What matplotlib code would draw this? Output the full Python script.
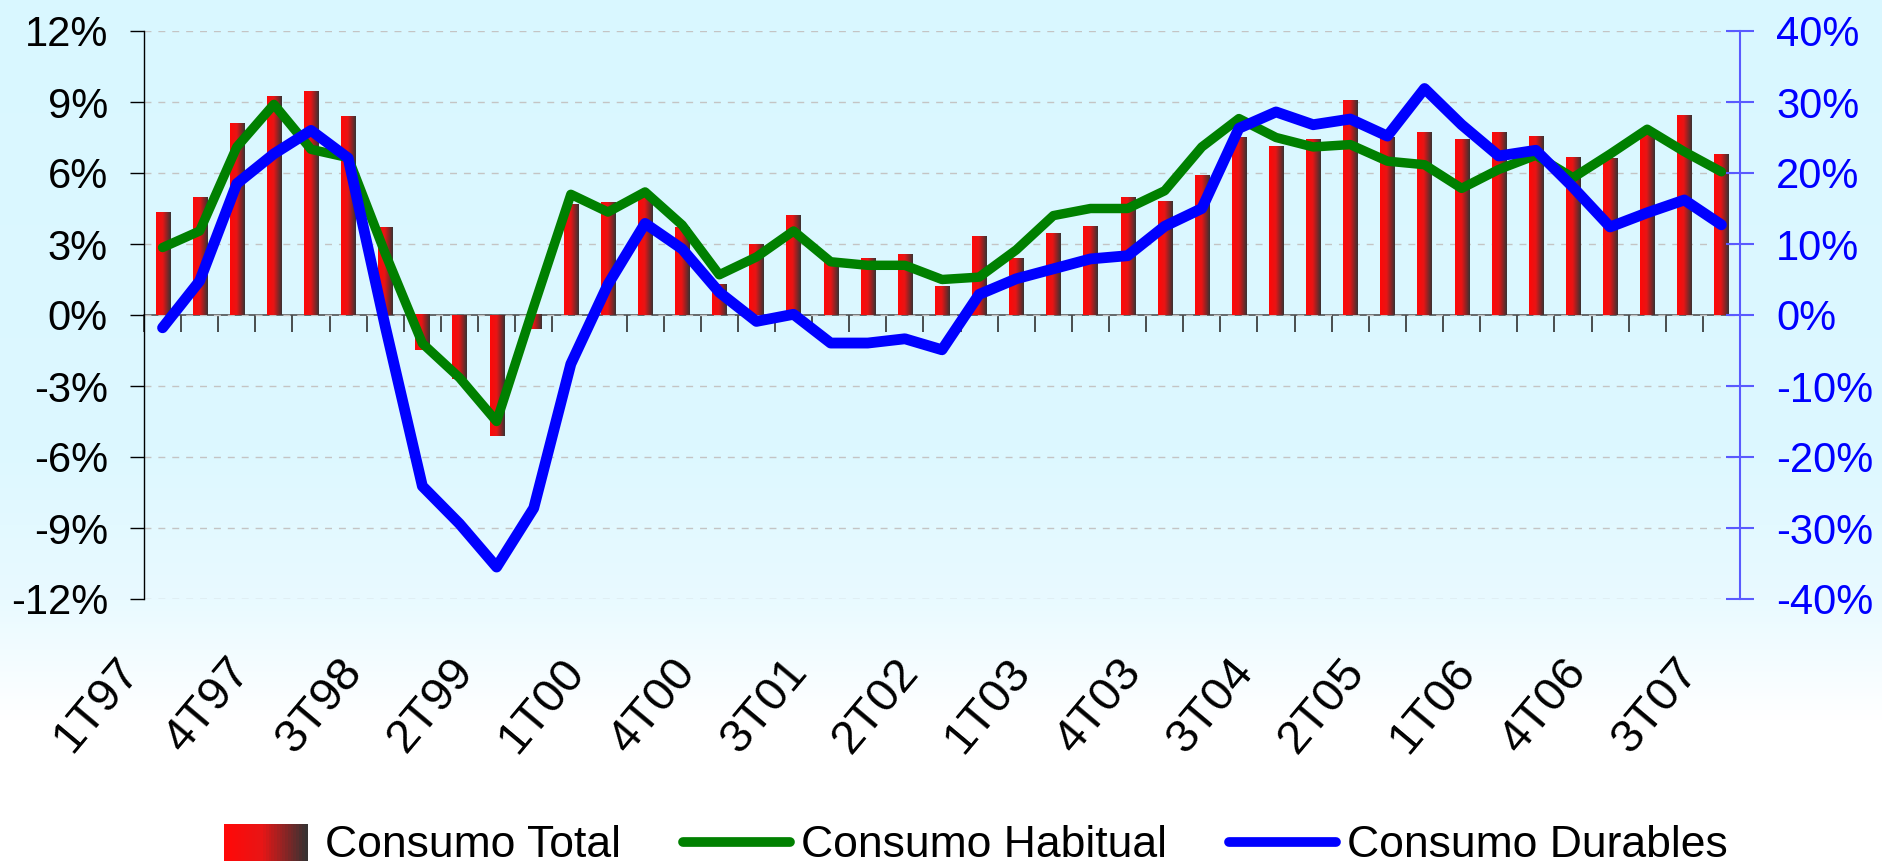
# standard imports
import numpy as np
import matplotlib.pyplot as plt
import matplotlib.transforms as mtransforms
from matplotlib.colors import LinearSegmentedColormap
from matplotlib.lines import Line2D
from matplotlib.patches import Rectangle
from matplotlib.legend_handler import HandlerBase

plt.rcParams['font.family'] = ['Liberation Sans', 'DejaVu Sans']

# %% Data (tasas de variacion interanual, %)
quarters = ['1T97', '2T97', '3T97', '4T97', '1T98', '2T98', '3T98', '4T98',
            '1T99', '2T99', '3T99', '4T99', '1T00', '2T00', '3T00', '4T00',
            '1T01', '2T01', '3T01', '4T01', '1T02', '2T02', '3T02', '4T02',
            '1T03', '2T03', '3T03', '4T03', '1T04', '2T04', '3T04', '4T04',
            '1T05', '2T05', '3T05', '4T05', '1T06', '2T06', '3T06', '4T06',
            '1T07', '2T07', '3T07']
tick_labels = ['1T97', '4T97', '3T98', '2T99', '1T00', '4T00', '3T01', '2T02',
               '1T03', '4T03', '3T04', '2T05', '1T06', '4T06', '3T07']

consumo_total = [4.35, 4.95, 8.1, 9.25, 9.45, 8.4, 3.7, -1.5, -2.7, -5.1, -0.6,
                 4.65, 4.75, 4.95, 3.7, 1.3, 3.0, 4.2, 2.2, 2.4, 2.55, 1.2,
                 3.3, 2.4, 3.45, 3.75, 4.95, 4.8, 5.9, 7.5, 7.1, 7.4, 9.05,
                 7.5, 7.7, 7.4, 7.7, 7.55, 6.65, 6.6, 7.75, 8.45, 6.8]
consumo_habitual = [2.85, 3.55, 7.1, 8.9, 7.0, 6.65, 2.6, -1.2, -2.65, -4.5, 0.35,
                    5.1, 4.35, 5.2, 3.8, 1.7, 2.45, 3.55, 2.25, 2.1, 2.1, 1.5,
                    1.6, 2.75, 4.2, 4.5, 4.5, 5.25, 7.1, 8.3, 7.5, 7.1, 7.2,
                    6.5, 6.35, 5.35, 6.15, 6.75, 5.8, 6.8, 7.85, 6.9, 6.05]
consumo_durables = [-1.8, 4.8, 18.5, 22.7, 26.0, 22.1, -1.6, -24.1, -29.4, -35.5, -27.2,
                    -6.9, 4.3, 12.9, 9.3, 3.2, -0.9, 0.1, -3.95, -3.95, -3.35, -4.9,
                    2.9, 5.1, 6.5, 7.9, 8.35, 12.5, 15.0, 26.3, 28.6, 26.8, 27.6,
                    25.2, 31.9, 26.8, 22.4, 23.2, 18.0, 12.4, 14.4, 16.2, 12.7]

green = '#008000'
blue = '#0000ff'
axis_blue = '#5a5aff'
bar_cmap = LinearSegmentedColormap.from_list(
    'bar', [(0, '#ff0808'), (0.45, '#e81515'), (1, '#383232')])


class GradientHandler(HandlerBase):
    '''legend key for the red -> dark gradient bars'''
    def create_artists(self, legend, orig_handle, xdescent, ydescent,
                       width, height, fontsize, trans):
        n = 30
        w = width * 0.78
        x0 = -xdescent + width * 0.16
        parts = []
        for k in range(n):
            r = Rectangle((x0 + w * k / n, -ydescent - height * 0.12), w / n * 1.1, height * 1.2,
                          facecolor=bar_cmap(k / (n - 1)), edgecolor='none', transform=trans)
            parts.append(r)
        return parts


# %% Figure + background
W, H = 1882, 865
fig = plt.figure(figsize=(W / 100, H / 100), dpi=100)

bg = fig.add_axes([0, 0, 1, 1], zorder=-10)
ys = np.arange(H)
stops_y = [0, 450, 600, 720, H]
stops_c = np.array([[217, 247, 255], [221, 248, 255], [233, 250, 255],
                    [255, 255, 255], [255, 255, 255]]) / 255
grad = np.stack([np.interp(ys, stops_y, stops_c[:, i]) for i in range(3)], axis=-1)[:, None, :]
bg.imshow(grad, aspect='auto', extent=(0, 1, 0, 1), origin='upper')
bg.set_xlim(0, 1)
bg.set_ylim(0, 1)
bg.axis('off')

# %% Main axis (left, %)
left, right, top, bottom = 144, 1740, 31, 599
ax = fig.add_axes([left / W, 1 - bottom / H, (right - left) / W, (bottom - top) / H])
ax.patch.set_alpha(0)

x = np.arange(len(quarters))
bar_w = 0.38
bars = ax.bar(x, consumo_total, width=bar_w, color='none', linewidth=0, zorder=2)
grad_img = np.linspace(0, 1, 64)[None, :]
for b in bars:
    x0, y0, bh = b.get_x(), b.get_y(), b.get_height()
    ax.imshow(grad_img, cmap=bar_cmap, aspect='auto', interpolation='bilinear',
              extent=(x0, x0 + b.get_width(), min(y0, y0 + bh), max(y0, y0 + bh)), zorder=2)

ax.plot(x, consumo_habitual, color=green, lw=6.8, solid_joinstyle='round',
        solid_capstyle='round', zorder=3)

ax.set_xlim(-0.5, len(quarters) - 0.5)
ax.set_ylim(-12, 12)
ax.set_yticks(np.arange(-12, 13, 3))
ax.yaxis.set_major_formatter(lambda v, p: f'{v:.0f}%')
ax.tick_params(axis='y', direction='out', length=10, width=1, pad=16, labelsize=30)
ax.yaxis.grid(True, color='#c4c4c4', lw=1, ls=(0, (5, 5)))
ax.set_axisbelow(True)

for s in ['top', 'right', 'bottom']:
    ax.spines[s].set_visible(False)
ax.spines['left'].set_linewidth(1)

# category labels at the bottom
ax.set_xticks([quarters.index(l) for l in tick_labels])
ax.set_xticklabels(tick_labels, rotation=50, ha='right', va='center',
                   rotation_mode='anchor', fontsize=34)
ax.tick_params(axis='x', length=0, pad=47)
shift = mtransforms.ScaledTranslation(-0.31, 0, fig.dpi_scale_trans)
for lab in ax.get_xticklabels():
    lab.set_transform(lab.get_transform() + shift)

# category axis crossing at 0 with tick marks between quarters
zero_ax = ax.secondary_xaxis(0.5)
zero_ax.set_xticks(np.arange(-0.5, len(quarters), 1))
zero_ax.tick_params(axis='x', direction='in', length=12, width=1.2, color='#303030',
                    labeltop=False, labelbottom=False)
zero_ax.spines['top'].set_color('#505050')
zero_ax.spines['top'].set_linewidth(1.2)

# %% Right axis (durables)
ax2 = ax.twinx()
ax2.patch.set_visible(False)
ax2.plot(x, consumo_durables, color=blue, lw=7.8, solid_joinstyle='round',
         solid_capstyle='round', zorder=4)
ax2.set_ylim(-40, 40)
ax2.set_yticks(np.arange(-40, 41, 10))
ax2.yaxis.set_major_formatter(lambda v, p: f'{v:.0f}%')
ax2.tick_params(axis='y', direction='inout', length=20, width=1.5, color=axis_blue,
                labelcolor=blue, labelsize=30, pad=16)
for s in ['top', 'left', 'bottom']:
    ax2.spines[s].set_visible(False)
ax2.spines['right'].set_color(axis_blue)
ax2.spines['right'].set_linewidth(1.5)

# %% Legend
total_key = Rectangle((0, 0), 1, 1, label='Consumo Total')
handles = [total_key,
           Line2D([], [], color=green, lw=7, solid_capstyle='round', label='Consumo Habitual'),
           Line2D([], [], color=blue, lw=7, solid_capstyle='round', label='Consumo Durables')]
fig.legend(handles=handles, handler_map={total_key: GradientHandler()},
           loc='center', bbox_to_anchor=(0.514, 0.022), ncol=3, frameon=False,
           fontsize=32, handlelength=2.4, handletextpad=0.25, columnspacing=1.4)

fig.savefig('out.png', dpi=100)
